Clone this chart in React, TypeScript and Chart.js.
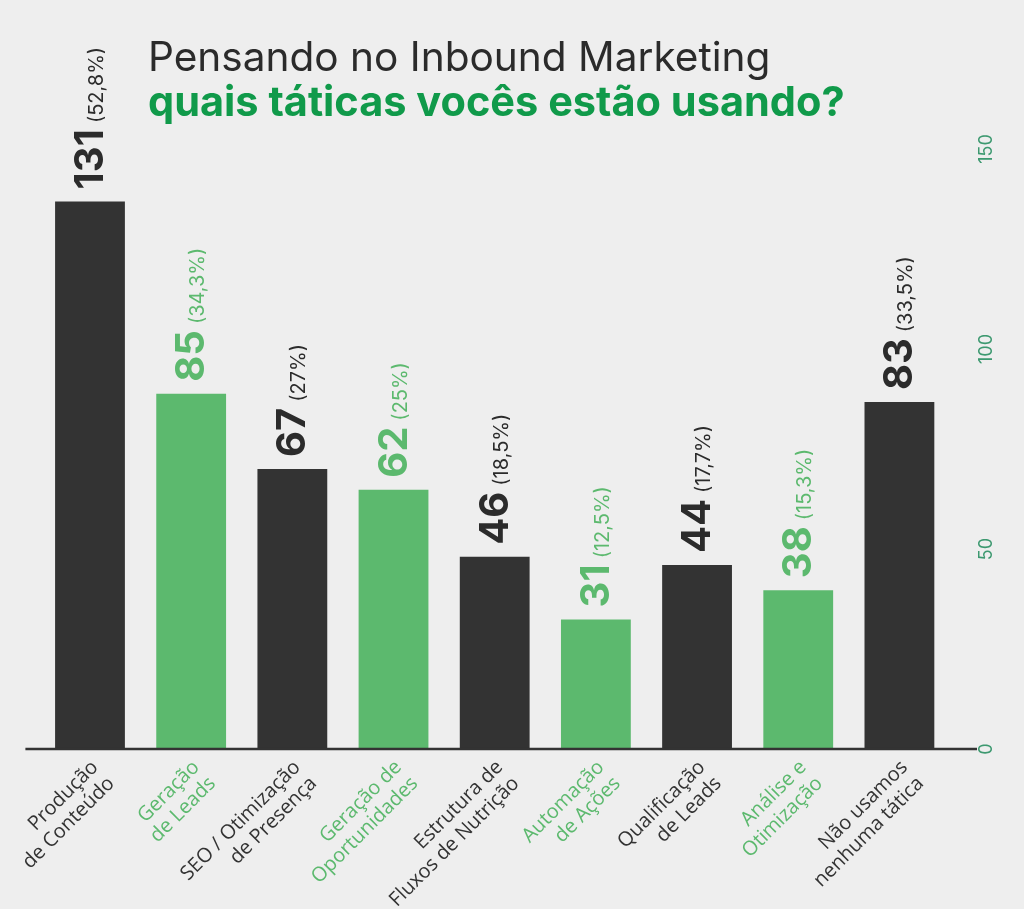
import React, { useEffect, useRef } from "react";
import { Chart, registerables } from "chart.js";

Chart.register(...registerables);

const titleLine1 = "Pensando no Inbound Marketing";
const titleLine2 = "quais táticas vocês estão usando?";

const categories: string[][] = [
  ["Produção", "de Conteúdo"],
  ["Geração", "de Leads"],
  ["SEO / Otimização", "de Presença"],
  ["Geração de", "Oportunidades"],
  ["Estrutura de", "Fluxos de Nutrição"],
  ["Automação", "de Ações"],
  ["Qualificação", "de Leads"],
  ["Análise e", "Otimização"],
  ["Não usamos", "nenhuma tática"],
];
const values = [131, 85, 67, 62, 46, 31, 44, 38, 83];
const percents = ["(52,8%)", "(34,3%)", "(27%)", "(25%)", "(18,5%)", "(12,5%)", "(17,7%)", "(15,3%)", "(33,5%)"];
const axisTickValues = [0, 50, 100, 150];

const DARK = "#333333";
const GREEN = "#5cb96e";
const TITLE_GREEN = "#109a4a";
const AXIS_GREEN = "#3d9970";
const BG = "#eeeeee";

const colorFor = (i: number) => (i % 2 === 1 ? GREEN : DARK);

const valueLabelPlugin = {
  id: "valueLabels",
  afterDatasetsDraw(chart: any) {
    const ctx = chart.ctx;
    const meta = chart.getDatasetMeta(0);
    const yScale = chart.scales.y;
    const area = chart.chartArea;
    // baseline
    ctx.save();
    const y0 = yScale.getPixelForValue(0);
    ctx.strokeStyle = DARK;
    ctx.lineWidth = 2.5;
    ctx.beginPath();
    ctx.moveTo(area.left - 14, y0);
    ctx.lineTo(area.right + 27, y0);
    ctx.stroke();
    ctx.restore();

    meta.data.forEach((bar: any, i: number) => {
      const color = i % 2 === 1 ? GREEN : "#2b2b2b";
      ctx.save();
      ctx.translate(bar.x + 13, bar.y - 12);
      ctx.rotate(-Math.PI / 2);
      ctx.textAlign = "left";
      ctx.textBaseline = "alphabetic";
      ctx.fillStyle = color;
      ctx.font = "700 40px Inter";
      const num = String(values[i]);
      ctx.fillText(num, 0, 0);
      const w = ctx.measureText(num).width;
      ctx.font = "400 20px Inter";
      ctx.fillText(percents[i], w + 6, 0);
      ctx.restore();
    });
  },
};

export default function App() {
  const canvasRef = useRef<HTMLCanvasElement | null>(null);

  useEffect(() => {
    if (!canvasRef.current) return;
    const chart = new Chart(canvasRef.current, {
      type: "bar",
      data: {
        labels: categories,
        datasets: [
          {
            data: values,
            backgroundColor: values.map((_, i) => colorFor(i)),
            borderWidth: 0,
            barPercentage: 0.69,
            categoryPercentage: 1.0,
            yAxisID: "y",
          },
        ],
      },
      options: {
        animation: false,
        responsive: true,
        maintainAspectRatio: false,
        layout: { padding: { top: 122, left: 39.4, right: 0, bottom: 0 } },
        plugins: {
          legend: { display: false },
          tooltip: { enabled: false },
          title: { display: false },
        },
        scales: {
          x: {
            grid: { display: false, drawTicks: false },
            border: { display: false },
            afterFit: (scale: any) => {
              scale.height = 160;
              scale.paddingLeft = 0;
              scale.paddingRight = 0;
            },
            ticks: {
              autoSkip: false,
              minRotation: 45,
              maxRotation: 45,
              padding: 7,
              labelOffset: 5,
              font: { family: "'Open Sans'", size: 20, lineHeight: 1.15 },
              color: (c: any) => colorFor(c.index),
            },
          },
          y: {
            display: false,
            min: 0,
            max: 150,
          },
          y2: {
            position: "right",
            min: 0,
            max: 156.75,
            grid: { display: false, drawTicks: false },
            border: { display: false },
            afterFit: (scale: any) => {
              scale.width = 74;
            },
            afterBuildTicks: (scale: any) => {
              scale.ticks = axisTickValues.map((v) => ({ value: v }));
            },
            ticks: {
              minRotation: 90,
              maxRotation: 90,
              crossAlign: "center",
              padding: 22,
              color: AXIS_GREEN,
              font: { family: "Inter", size: 18 },
            },
          },
        },
      },
      plugins: [valueLabelPlugin],
    });
    return () => chart.destroy();
  }, []);

  return (
    <div
      style={{
        position: "absolute",
        left: 0,
        top: 0,
        width: 1024,
        height: 909,
        background: BG,
        overflow: "hidden",
      }}
    >
      <canvas ref={canvasRef} style={{ position: "absolute", left: 0, top: 0 }} />
      <div
        style={{
          position: "absolute",
          left: 148,
          top: 35,
          fontFamily: "Inter",
          lineHeight: "44px",
          whiteSpace: "nowrap",
          pointerEvents: "none",
        }}
      >
        <div style={{ color: "#2b2b2b", fontWeight: 400, fontSize: 40.6 }}>{titleLine1}</div>
        <div style={{ color: TITLE_GREEN, fontWeight: 700, fontSize: 41.5 }}>{titleLine2}</div>
      </div>
    </div>
  );
}
